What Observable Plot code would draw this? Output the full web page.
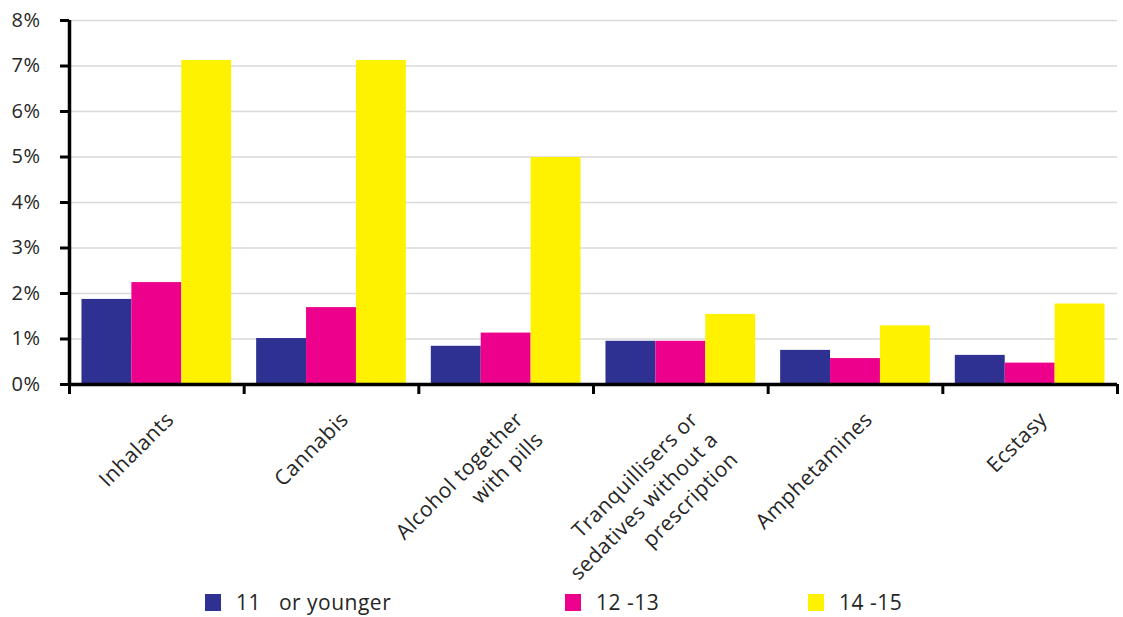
<!DOCTYPE html>
<html>
<head>
<meta charset="utf-8">
<script src="https://cdn.jsdelivr.net/npm/d3@7"></script>
<script src="https://cdn.jsdelivr.net/npm/@observablehq/plot@0.6"></script>
<style>
  html, body { margin: 0; padding: 0; background: #fff; }
  #chart svg { display: block; }
  #chart g[aria-label="x-axis tick"], #chart g[aria-label="y-axis tick"],
  #chart g[aria-label="x-axis tick"] path, #chart g[aria-label="y-axis tick"] path { stroke-width: 3px !important; stroke: #000; stroke-opacity: 1; }
  #legend { position: relative; width: 1123px; height: 32px; font-family: "Open Sans", sans-serif; font-size: 21px; color: #262626; letter-spacing: 0.5px; }
  .item { position: absolute; top: 3px; display: flex; align-items: center; white-space: pre; }
  .sw { width: 16px; height: 17px; margin-right: 15px; }
</style>
</head>
<body>
<div id="chart"></div>
<div id="legend"></div>
<script>
const categories = [
  "Inhalants",
  "Cannabis",
  "Alcohol together\nwith pills",
  "Tranquillisers or\nsedatives without a\nprescription",
  "Amphetamines",
  "Ecstasy"
];
const groups = ["11   or younger", "12 -13", "14 -15"];
const age11orYounger = [1.87, 1.01, 0.84, 0.95, 0.75, 0.64];
const age12to13     = [2.24, 1.69, 1.13, 0.95, 0.57, 0.47];
const age14to15     = [7.12, 7.12, 4.99, 1.54, 1.29, 1.77];
const colors = ["#2E3192", "#EC008C", "#FFF200"];
const yTicks = [0, 1, 2, 3, 4, 5, 6, 7, 8];

const series = [age11orYounger, age12to13, age14to15];
const rows = [];
categories.forEach((c, ci) => {
  groups.forEach((g, gi) => rows.push({cat: c, ci, g, gi, value: series[gi][ci]}));
});
const catRows = categories.map((c, i) => ({c, i}));

// position of each age group inside a category slot
const inner = d3.scaleBand().domain(groups).range([0, 1]).paddingInner(0).paddingOuter(0.25);

const chart = Plot.plot({
  width: 1123,
  height: 585,
  marginLeft: 69,
  marginRight: 6,
  marginTop: 20,
  marginBottom: 201,
  style: {fontFamily: "Open Sans, sans-serif", fontSize: "20px", color: "#262626", letterSpacing: "0.5px", background: "#fff"},
  x: {type: "linear", domain: [0, categories.length], ticks: d3.range(categories.length + 1), tickSize: 10, tickFormat: () => "", label: null},
  y: {domain: [0, 8], ticks: yTicks, tickSize: 9, tickPadding: 20, tickFormat: d => d + "%", label: null},
  color: {domain: groups, range: colors},
  marks: [
    Plot.ruleY(yTicks.slice(1), {stroke: "#d9d9d9", strokeWidth: 1.5}),
    Plot.rect(rows, {
      x1: d => d.ci + inner(d.g),
      x2: d => d.ci + inner(d.g) + inner.bandwidth(),
      y1: 0,
      y2: "value",
      fill: "g"
    }),
    Plot.ruleY([0], {stroke: "#000", strokeWidth: 3.5}),
    Plot.ruleX([0], {stroke: "#000", strokeWidth: 3.5}),
    Plot.text(catRows, {
      x: d => d.i + 0.5,
      y: () => 0,
      text: "c",
      rotate: -45,
      textAnchor: "end",
      lineAnchor: "top",
      lineHeight: 1.35,
      dx: 4,
      dy: 22,
      fontSize: 21,
      fill: "#262626"
    })
  ]
});
document.getElementById("chart").appendChild(chart);

const legendLeft = [205, 565, 808];
const legend = document.getElementById("legend");
groups.forEach((g, i) => {
  const item = document.createElement("div");
  item.className = "item";
  item.style.left = legendLeft[i] + "px";
  const sw = document.createElement("div");
  sw.className = "sw";
  sw.style.background = colors[i];
  const t = document.createElement("span");
  t.textContent = g;
  item.appendChild(sw);
  item.appendChild(t);
  legend.appendChild(item);
});
</script>
</body>
</html>
